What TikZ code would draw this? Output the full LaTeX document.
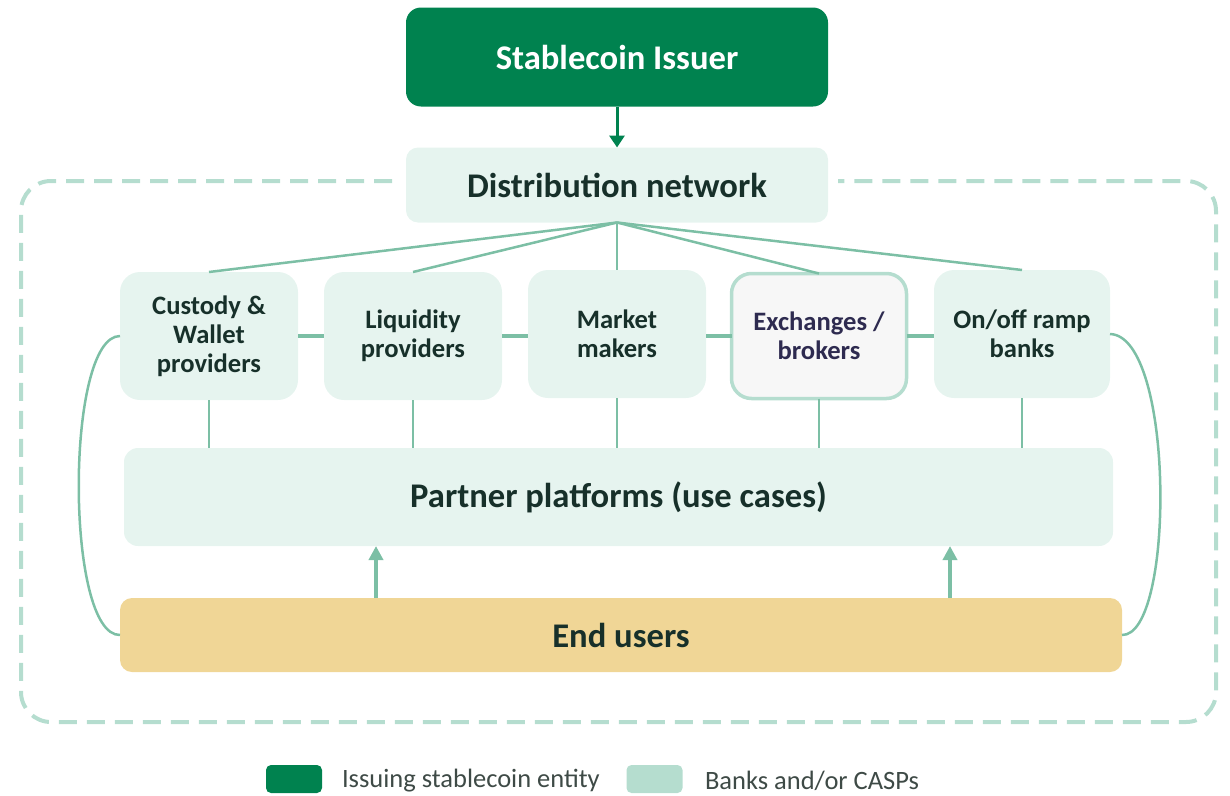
\documentclass[tikz,border=0pt]{standalone}
\usepackage{fontspec}
\setmainfont{Carlito}
\usetikzlibrary{arrows.meta}

\definecolor{issuer}{HTML}{00824F}
\definecolor{paleg}{HTML}{E6F4EF}
\definecolor{midg}{HTML}{B5DDCF}
\definecolor{linkg}{HTML}{7CBFA5}
\definecolor{darktxt}{HTML}{17302A}
\definecolor{navytxt}{HTML}{2E2B50}
\definecolor{sand}{HTML}{F0D696}
\definecolor{greytxt}{HTML}{3E4A46}

\begin{document}
\begin{tikzpicture}[x=1pt, y=-1pt]
\tikzset{ inner sep=0pt, outer sep=0pt,
  box/.style={fill=paleg, rounded corners=20pt, minimum width=178pt, minimum height=128pt,
    align=center, text=darktxt, font=\fontsize{26.6}{29}\selectfont\bfseries},
  wide/.style={fill=paleg, rounded corners=14pt, align=center, text=darktxt,
    font=\fontsize{34.6}{40}\selectfont\bfseries},
  link/.style={linkg, line width=2.5pt},
  bar/.style={linkg, line width=4pt},
  key/.style={rounded corners=5pt, minimum width=56pt, minimum height=28pt},
  keytext/.style={anchor=west, text=greytxt, font=\fontsize{26.5}{30}\selectfont},
}

\useasboundingbox (0,0) rectangle (1230,795);

% dashed frame round the network
\draw [midg, line width=4pt, dash pattern=on 18pt off 10pt, rounded corners=30pt]
  (392,181) -- (21,181) -- (21,722) -- (1216,722) -- (1216,181) -- (838,181);

\node [fill=issuer, rounded corners=15pt, minimum width=422pt, minimum height=99pt,
  text=white, font=\fontsize{34.6}{40}\selectfont\bfseries] (I) at (617,57) {Stablecoin Issuer};
\node [wide, minimum width=422pt, minimum height=75pt, rounded corners=12pt] (D) at (617,185) {Distribution network};

\node [box] (C) at (209,336) {Custody \&\\Wallet\\providers};
\node [box] (L) at (413,336) {Liquidity\\providers};
\node [box] (M) at (617,334) {Market\\makers};
\node [box, fill=black!3, draw=midg, line width=3.5pt, minimum width=175pt, minimum height=125pt,
  text=navytxt] (X) at (819,336) {Exchanges /\\brokers};
\node [box, minimum width=176pt] (R) at (1022,334) {On/off ramp\\banks};

\node [wide, minimum width=989pt, minimum height=98pt] (P) at (618.5,497) {Partner platforms (use cases)};
\node [wide, fill=sand, minimum width=1002pt, minimum height=74pt, rounded corners=12pt] (U) at (621,635) {End users};

\draw [-{Triangle[width=15pt,length=12pt]}, issuer, line width=3pt] (I) -- (D);

\foreach \b in {C,L,M,X,R} {
  \draw [link] (D.south) -- (\b.north);
  \draw [link] (\b.south) -- (\b.south |- P.north);
}

\draw [bar] (C.east) -- (L.west);
\draw [bar] (L.east) -- (L.east -| M.west);
\draw [bar] (M.east |- X.west) -- (X.west);
\draw [bar] (X.east) -- (X.east -| R.west);

\coordinate (a1) at (376,0);
\coordinate (a2) at (950,0);
\draw [-{Triangle[width=14pt,length=14pt]}, bar] (a1 |- U.north) -- (a1 |- P.south);
\draw [-{Triangle[width=14pt,length=14pt]}, bar] (a2 |- U.north) -- (a2 |- P.south);

\draw [link] (C.west) .. controls (65,336) and (65,636) .. (U.west);
\draw [link] (R.east) .. controls (1175,336) and (1175,636) .. (U.east);

% legend
\node [key, fill=issuer] (K1) at (294,779) {};
\node [keytext] (T1) at (342,781) {Issuing stablecoin entity};
\node [key, fill=midg] (K2) at (654.5,779) {};
\node [keytext] (T2) at (705,781) {Banks and/or CASPs};

\end{tikzpicture}
\end{document}
